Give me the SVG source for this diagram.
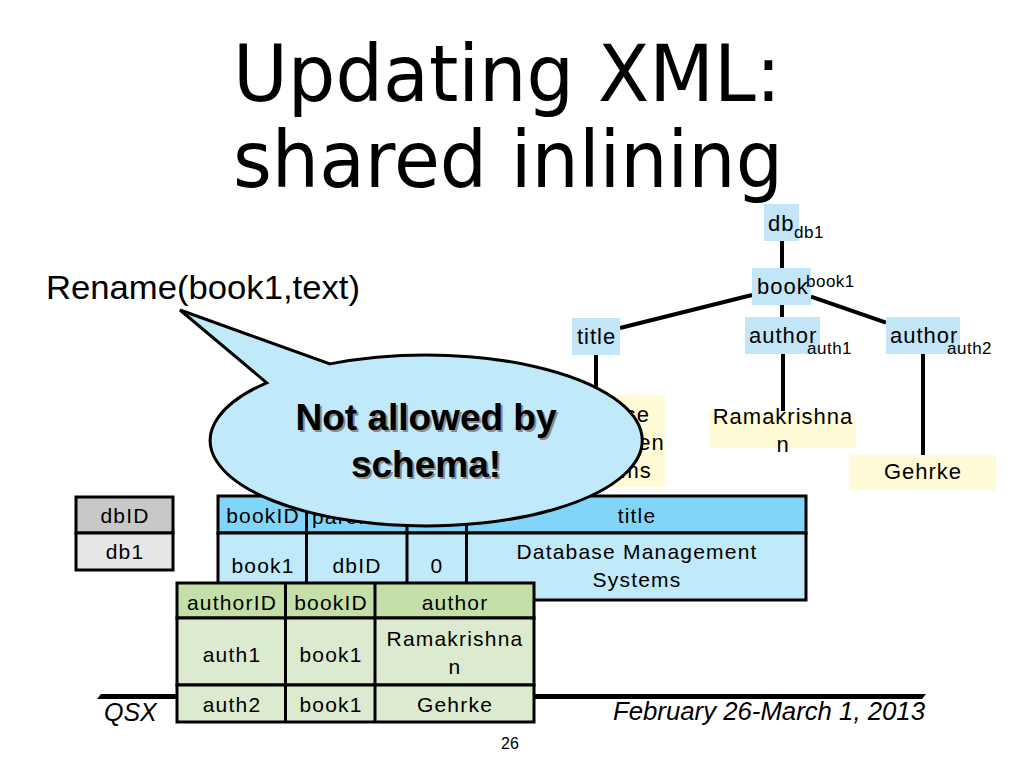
<svg xmlns="http://www.w3.org/2000/svg" width="1024" height="768" viewBox="0 0 1024 768">
<style>
.t{font-family:"Liberation Sans",Arial,sans-serif;fill:#000}
.title{font-family:"DejaVu Sans",Verdana,sans-serif;font-size:78px;fill:#000}
.tree{font-size:22px;letter-spacing:1px}
.sub{font-size:17px;letter-spacing:0.5px}
.mid{text-anchor:middle}
.tbl{font-size:21px;letter-spacing:1.2px;text-anchor:middle}
.edge{stroke:#000;stroke-width:4;fill:none}
.node{fill:#c2e5f7}
.val{fill:#fffbd6}
.cell{stroke:#000;stroke-width:3}
.it{font-style:italic;font-size:25px}
</style>
<rect width="1024" height="768" fill="#fff"/>

<g id="title">
<text class="title" x="233" y="101" textLength="548" lengthAdjust="spacingAndGlyphs">Updating XML:</text>
<text class="title" x="233" y="187" textLength="550" lengthAdjust="spacingAndGlyphs">shared inlining</text>
</g>

<g id="op"><text class="t" x="46" y="299" font-size="34" textLength="314" lengthAdjust="spacingAndGlyphs">Rename(book1,text)</text></g>

<g id="footer">
<polygon points="97,699 101,694 926,694 922,699" fill="#000"/>
<text class="t it" x="104" y="721">QSX</text>
<text class="t it" x="613" y="720" textLength="312" lengthAdjust="spacingAndGlyphs">February 26-March 1, 2013</text>
<text class="t mid" x="510" y="749" font-size="16">26</text>
</g>

<g id="connectors">
<path class="edge" d="M782 241V268"/>
<path class="edge" d="M752 295L620 328"/>
<path class="edge" d="M782 305V317"/>
<path class="edge" d="M811 296.7L886 322.7"/>
<path class="edge" d="M596 355V395"/>
<path class="edge" d="M783 354V411"/>
<path class="edge" d="M923 354V455"/>
</g>

<g id="node-db"><rect class="node" x="764" y="204" width="35" height="37"/><text class="t tree" x="768" y="231">db</text><text class="t sub" x="794" y="238">db1</text></g>
<g id="node-book"><rect class="node" x="752" y="268" width="59" height="37"/><text class="t tree" x="757" y="294">book</text><text class="t sub" x="806" y="287">book1</text></g>
<g id="node-title"><rect class="node" x="572" y="318" width="48" height="37"/><text class="t tree" x="577" y="344">title</text></g>
<g id="node-author1"><rect class="node" x="745" y="317" width="75" height="37"/><text class="t tree" x="749" y="343">author</text><text class="t sub" x="807" y="354">auth1</text></g>
<g id="node-author2"><rect class="node" x="886" y="317" width="74" height="37"/><text class="t tree" x="890" y="343">author</text><text class="t sub" x="947" y="354">auth2</text></g>
<g id="val-title"><rect class="val" x="527" y="395" width="138" height="92"/>
<text class="t tree mid" x="599" y="422">Database</text><text class="t tree mid" x="599" y="450">Managemen</text><text class="t tree mid" x="599" y="478">t Systems</text></g>
<g id="val-author1"><rect class="val" x="709" y="413" width="147" height="35"/>
<text class="t tree mid" x="783" y="424">Ramakrishna</text><text class="t tree mid" x="783" y="452">n</text></g>
<g id="val-author2"><rect class="val" x="849" y="455" width="147" height="35"/><text class="t tree mid" x="923" y="479">Gehrke</text></g>

<g id="table-db">
<rect class="cell" x="76" y="497" width="97" height="36" fill="#c8c8c8"/>
<rect class="cell" x="76" y="533" width="97" height="37" fill="#e6e6e6"/>
<text class="t tbl" x="125" y="523">dbID</text>
<text class="t tbl" x="125" y="559">db1</text>
</g>

<g id="table-book">
<rect class="cell" x="218" y="496" width="588" height="37" fill="#80d5f9"/>
<rect class="cell" x="218" y="533" width="588" height="67" fill="#c0e9fa"/>
<path class="cell" d="M306.5 496V600M407 496V600M466.5 496V600"/>
<text class="t tbl" x="263" y="523">bookID</text>
<text class="t tbl" x="357" y="524">parentID</text>
<text class="t tbl" x="637" y="523">title</text>
<text class="t tbl" x="263" y="573">book1</text>
<text class="t tbl" x="357" y="573">dbID</text>
<text class="t tbl" x="437" y="573">0</text>
<text class="t tbl" x="637" y="559">Database Management</text>
<text class="t tbl" x="637" y="587">Systems</text>
</g>

<g id="table-author">
<rect class="cell" x="177" y="583" width="357" height="35" fill="#c4e0a8"/>
<rect class="cell" x="177" y="618" width="357" height="67" fill="#dcebd0"/>
<rect class="cell" x="177" y="685" width="357" height="37" fill="#dcebd0"/>
<path class="cell" d="M285.5 583V722M375 583V722"/>
<text class="t tbl" x="232" y="610">authorID</text>
<text class="t tbl" x="331" y="610">bookID</text>
<text class="t tbl" x="455" y="610">author</text>
<text class="t tbl" x="232" y="662">auth1</text>
<text class="t tbl" x="331" y="662">book1</text>
<text class="t tbl" x="455" y="646">Ramakrishna</text>
<text class="t tbl" x="455" y="674">n</text>
<text class="t tbl" x="232" y="712">auth2</text>
<text class="t tbl" x="331" y="712">book1</text>
<text class="t tbl" x="455" y="712">Gehrke</text>
</g>

<g id="callout">
<path d="M266.7 382.8L180 310L330 363.9A216 85.5 0 1 1 266.7 382.8Z" fill="#c0e9fa" stroke="#000" stroke-width="3" stroke-linejoin="miter"/>
<g font-family="Liberation Sans,Arial,sans-serif" font-weight="bold" font-size="37" text-anchor="middle">
<text x="428" y="432" fill="#8a8a8a">Not allowed by</text>
<text x="428" y="479" fill="#8a8a8a">schema!</text>
<text x="426" y="430" fill="#000">Not allowed by</text>
<text x="426" y="477" fill="#000">schema!</text>
</g>
</g>
</svg>
